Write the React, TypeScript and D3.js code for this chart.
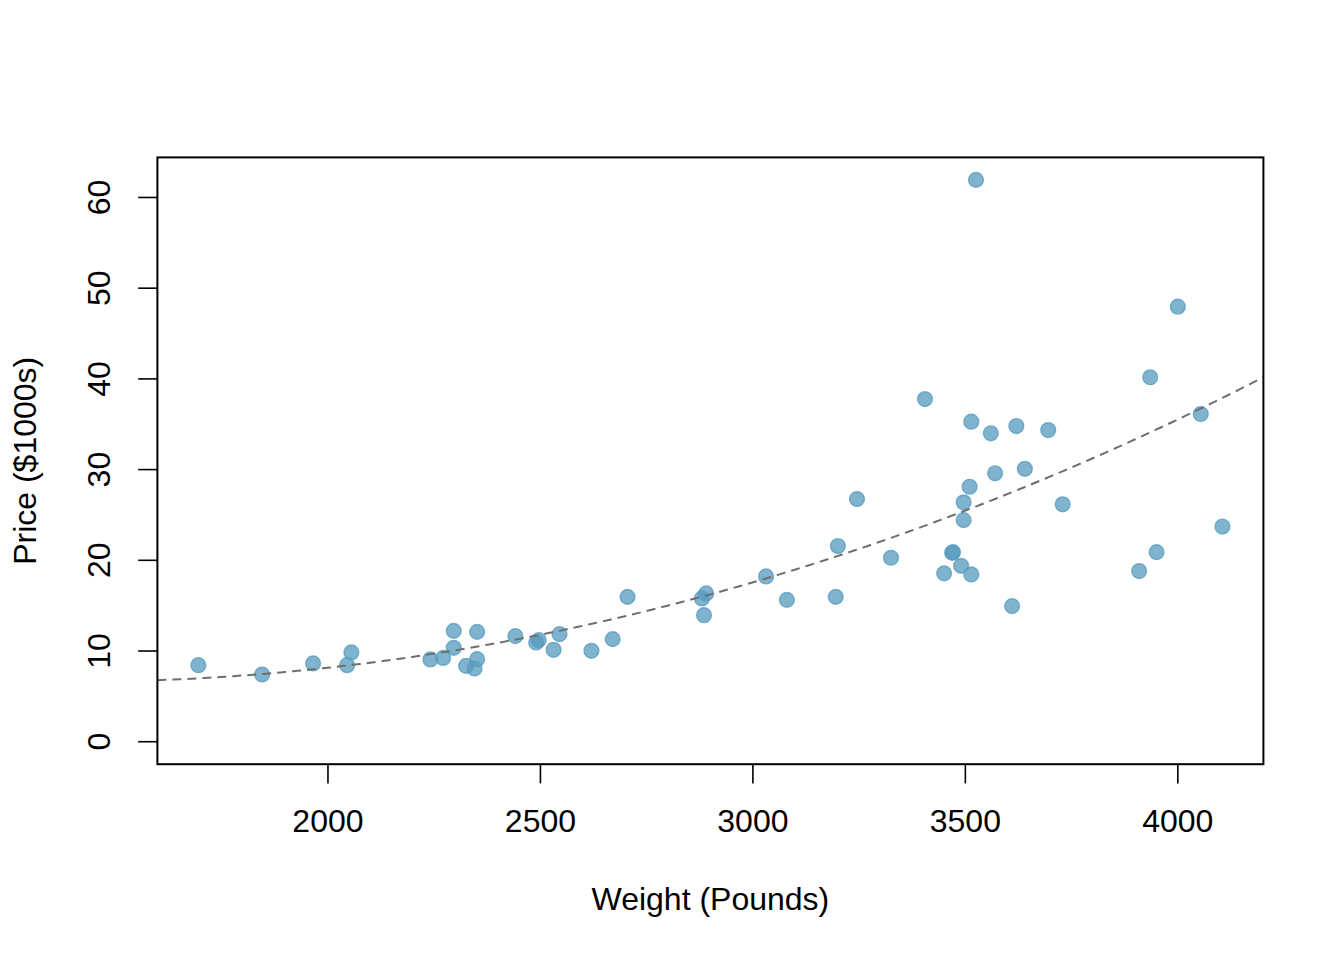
import React from "react";
import * as d3 from "d3";

// Weight (pounds) and price ($1000s) for each car
const weight = [
  1695, 1845, 1965, 2045, 2055, 2241, 2271, 2296, 2296, 2325, 2345, 2351, 2351,
  2441, 2490, 2496, 2531, 2545, 2620, 2670, 2705, 2880, 2890, 2885, 3031, 3080,
  3195, 3200, 3245, 3325, 3405, 3450, 3469, 3471, 3490, 3496, 3496, 3510, 3514,
  3514, 3525, 3560, 3570, 3610, 3620, 3640, 3695, 3729, 3909, 3935, 3950, 4000,
  4054, 4105,
];
const price = [
  8.44, 7.41, 8.63, 8.44, 9.84, 9.07, 9.24, 12.22, 10.35, 8.36, 8.07, 9.1, 12.11,
  11.64, 10.94, 11.2, 10.13, 11.86, 10.02, 11.31, 15.97, 15.8, 16.35, 13.95,
  18.22, 15.64, 15.97, 21.57, 26.75, 20.28, 37.78, 18.56, 20.83, 20.9, 19.39,
  26.39, 24.43, 28.11, 35.28, 18.44, 61.94, 34.0, 29.59, 14.95, 34.8, 30.09,
  34.36, 26.17, 18.81, 40.18, 20.9, 47.96, 36.13, 23.72,
];

const xTicks = [2000, 2500, 3000, 3500, 4000];
const yTicks = [0, 10, 20, 30, 40, 50, 60];

// Quadratic fit: price = C0 + C1*(w/1000) + C2*(w/1000)^2
const FIT_C0 = 14.952;
const FIT_C1 = -11.936;
const FIT_C2 = 4.27;

const xLabel = "Weight (Pounds)";
const yLabel = "Price ($1000s)";

export default function App() {
  const W = 1344;
  const H = 960;
  const left = 157.4;
  const right = 1263.4;
  const top = 157.4;
  const bottom = 764.2;
  const font = "'Liberation Sans', Arial, Helvetica, sans-serif";

  const [xmin, xmax] = d3.extent(weight) as [number, number];
  const xr = xmax - xmin;
  const x = d3
    .scaleLinear()
    .domain([xmin - 0.04 * xr, xmax + 0.04 * xr])
    .range([left, right]);
  const ymax = d3.max(price) as number;
  const y = d3
    .scaleLinear()
    .domain([-0.04 * ymax, ymax * 1.04])
    .range([bottom, top]);

  const [d0, d1] = x.domain();
  const samples = d3.range(d0, d1, 10).concat([d1]);
  const fit = (w: number) => {
    const u = w / 1000;
    return FIT_C0 + FIT_C1 * u + FIT_C2 * u * u;
  };
  const line = d3
    .line<number>()
    .x((w) => x(w))
    .y((w) => y(fit(w)));

  const tick = 19.2;

  return (
    <svg
      width={W}
      height={H}
      style={{ position: "absolute", left: 0, top: 0, background: "#fff" }}
      fontFamily={font}
    >
      <defs>
        <clipPath id="plotclip">
          <rect x={left} y={top} width={right - left} height={bottom - top} />
        </clipPath>
      </defs>
      <rect x={0} y={0} width={W} height={H} fill="#fff" />

      <g>
        {weight.map((w, i) => (
          <circle
            key={i}
            cx={x(w)}
            cy={y(price[i])}
            r={7.4}
            fill="#569BBD"
            fillOpacity={0.75}
            stroke="#569BBD"
            strokeOpacity={0.75}
            strokeWidth={1.4}
          />
        ))}
      </g>

      <path
        d={line(samples) || ""}
        fill="none"
        stroke="#6e6e6e"
        strokeWidth={2}
        strokeDasharray="9 6"
        clipPath="url(#plotclip)"
      />

      <rect
        x={left}
        y={top}
        width={right - left}
        height={bottom - top}
        fill="none"
        stroke="#000"
        strokeWidth={2}
      />

      {xTicks.map((t) => (
        <g key={"x" + t}>
          <line
            x1={x(t)}
            x2={x(t)}
            y1={bottom}
            y2={bottom + tick}
            stroke="#000"
            strokeWidth={1.6}
          />
          <text x={x(t)} y={832} fontSize={32} textAnchor="middle" fill="#000">
            {t}
          </text>
        </g>
      ))}

      {yTicks.map((t) => (
        <g key={"y" + t}>
          <line
            x1={left}
            x2={left - tick}
            y1={y(t)}
            y2={y(t)}
            stroke="#000"
            strokeWidth={1.6}
          />
          <text
            transform={`translate(110, ${y(t)}) rotate(-90)`}
            fontSize={32}
            textAnchor="middle"
            fill="#000"
          >
            {t}
          </text>
        </g>
      ))}

      <text
        x={(left + right) / 2}
        y={910}
        fontSize={32}
        textAnchor="middle"
        fill="#000"
      >
        {xLabel}
      </text>
      <text
        transform={`translate(36, ${(top + bottom) / 2}) rotate(-90)`}
        fontSize={32}
        textAnchor="middle"
        fill="#000"
      >
        {yLabel}
      </text>
    </svg>
  );
}
